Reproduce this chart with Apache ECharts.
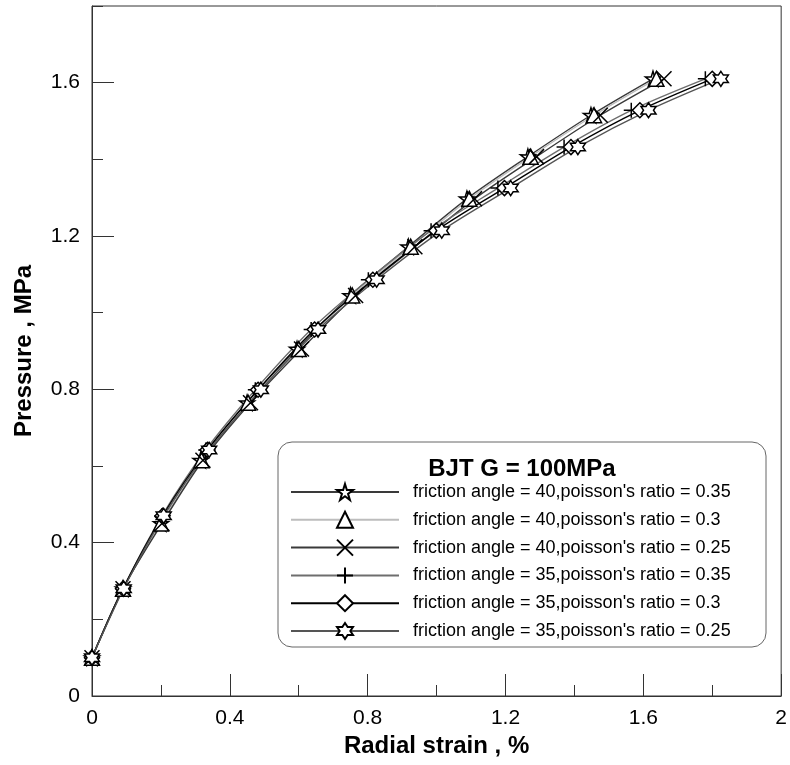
<!DOCTYPE html>
<html>
<head>
<meta charset="utf-8">
<script src="https://cdn.jsdelivr.net/npm/echarts@6/dist/echarts.min.js"></script>
<style>html,body{margin:0;padding:0;background:#fff}#c{width:790px;height:765px}</style>
</head>
<body>
<div id="c"></div>
<script>
// ---- data ----
const seriesNames = [
  "friction angle = 40,poisson's ratio = 0.35",
  "friction angle = 40,poisson's ratio = 0.3",
  "friction angle = 40,poisson's ratio = 0.25",
  "friction angle = 35,poisson's ratio = 0.35",
  "friction angle = 35,poisson's ratio = 0.3",
  "friction angle = 35,poisson's ratio = 0.25"
];
const pressure40 = [0.1, 0.28, 0.45, 0.615, 0.765, 0.905, 1.045, 1.172, 1.297, 1.407, 1.515, 1.61];
const pressure35 = [0.1, 0.28, 0.47, 0.642, 0.799, 0.956, 1.086, 1.214, 1.325, 1.432, 1.528, 1.61];
const strain40_035 = [0, 0.09, 0.2, 0.315, 0.45, 0.595, 0.75, 0.918, 1.088, 1.265, 1.448, 1.628];
const strain40_030 = [0, 0.09, 0.2, 0.318, 0.453, 0.6, 0.755, 0.925, 1.095, 1.273, 1.457, 1.638];
const strain40_025 = [0, 0.09, 0.203, 0.322, 0.46, 0.608, 0.765, 0.937, 1.11, 1.29, 1.475, 1.66];
const strain35_035 = [0, 0.09, 0.203, 0.33, 0.474, 0.636, 0.802, 0.984, 1.178, 1.37, 1.565, 1.78];
const strain35_030 = [0, 0.09, 0.205, 0.335, 0.482, 0.646, 0.815, 0.999, 1.197, 1.39, 1.59, 1.80];
const strain35_025 = [0, 0.092, 0.208, 0.34, 0.49, 0.656, 0.826, 1.015, 1.215, 1.41, 1.615, 1.825];
const xMajorTicks = [0, 0.4, 0.8, 1.2, 1.6, 2];
const xMinorTicks = [0.2, 0.6, 1.0, 1.4, 1.8];
const yMajorTicks = [0, 0.4, 0.8, 1.2, 1.6];
const yMinorTicks = [0.2, 0.6, 1.0, 1.4, 1.8];
const legendTitle = 'BJT G = 100MPa';
const xName = 'Radial strain , %';
const yName = 'Pressure , MPa';

// ---- styles ----
const STAR5 = 'path://M50 0 L61.2 34.6 L97.6 34.5 L68.1 55.9 L79.4 90.5 L50 69 L20.6 90.5 L31.9 55.9 L2.4 34.5 L38.8 34.6 Z';
const TRI = 'path://M50 0 L100 87 L0 87 Z';
const XMARK = 'path://M0 0 L100 100 M100 0 L0 100';
const PLUS = 'path://M50 0 L50 100 M0 50 L100 50';
const DIAM = 'path://M50 0 L100 50 L50 100 L0 50 Z';
const HEX = 'path://M50 0 L64.4 25 L93.3 25 L78.9 50 L93.3 75 L64.4 75 L50 100 L35.6 75 L6.7 75 L21.1 50 L6.7 25 L35.6 25 Z';

const strains = [strain40_035, strain40_030, strain40_025, strain35_035, strain35_030, strain35_025];
const pressures = [pressure40, pressure40, pressure40, pressure35, pressure35, pressure35];
const symbols = [STAR5, TRI, XMARK, PLUS, DIAM, HEX];
const lineColors = ['#3a3a3a', '#bdbdbd', '#3a3a3a', '#6e6e6e', '#000000', '#555555'];
const FONT = '"Liberation Sans", Arial, sans-serif';

const series = seriesNames.map((n, i) => ({
  name: n,
  type: 'line',
  xAxisIndex: 0,
  yAxisIndex: 0,
  data: strains[i].map((x, k) => [x, pressures[i][k]]),
  smooth: 0.3,
  symbol: symbols[i],
  symbolSize: 15,
  showAllSymbol: true,
  lineStyle: { color: lineColors[i], width: 1.4 },
  itemStyle: { color: '#ffffff', borderColor: '#000000', borderWidth: 1.5 },
  emphasis: { disabled: true }
}));

const chart = echarts.init(document.getElementById('c'), null, { renderer: 'canvas' });
chart.setOption({
  animation: false,
  backgroundColor: '#ffffff',
  grid: { left: 92, right: 8, top: 6, bottom: 69, show: true, borderColor: '#333', borderWidth: 1, backgroundColor: 'transparent' },
  xAxis: [
    {
      type: 'value', min: 0, max: 2, interval: 0.4,
      name: xName, nameLocation: 'middle', nameGap: 33,
      nameTextStyle: { fontFamily: FONT, fontSize: 24, fontWeight: 'bold', color: '#000' },
      axisLine: { show: true, onZero: false, lineStyle: { color: '#333', width: 1 } },
      axisTick: { show: true, inside: true, length: 22, customValues: xMajorTicks, lineStyle: { color: '#333' } },
      axisLabel: { customValues: xMajorTicks, margin: 12, fontFamily: FONT, fontSize: 21, color: '#000' },
      splitLine: { show: false }
    },
    {
      type: 'value', min: 0, max: 2, position: 'bottom',
      axisLine: { show: false },
      axisTick: { show: true, inside: true, length: 11, customValues: xMinorTicks, lineStyle: { color: '#333' } },
      axisLabel: { show: false },
      splitLine: { show: false }
    }
  ],
  yAxis: [
    {
      type: 'value', min: 0, max: 1.8, interval: 0.2,
      name: yName, nameLocation: 'middle', nameGap: 56, nameRotate: 90,
      nameTextStyle: { fontFamily: FONT, fontSize: 24, fontWeight: 'bold', color: '#000' },
      axisLine: { show: true, onZero: false, lineStyle: { color: '#333', width: 1 } },
      axisTick: { show: true, inside: true, length: 22, customValues: yMajorTicks, lineStyle: { color: '#333' } },
      axisLabel: { customValues: yMajorTicks, margin: 12, fontFamily: FONT, fontSize: 21, color: '#000' },
      splitLine: { show: false }
    },
    {
      type: 'value', min: 0, max: 1.8, position: 'left',
      axisLine: { show: false },
      axisTick: { show: true, inside: true, length: 11, customValues: yMinorTicks, lineStyle: { color: '#333' } },
      axisLabel: { show: false },
      splitLine: { show: false }
    }
  ],
  legend: {
    orient: 'vertical',
    left: 290, top: 482,
    padding: 0,
    itemWidth: 108, itemHeight: 20, itemGap: 7.8,
    textStyle: { fontFamily: FONT, fontSize: 18, color: '#000', padding: [0, 0, 0, 9], lineHeight: 20 },
    data: seriesNames,
    selectedMode: false
  },
  graphic: [
    { type: 'rect', z: 100, shape: { x: 278, y: 442, width: 488, height: 205, r: 14 }, style: { fill: 'none', stroke: '#666', lineWidth: 1 } },
    { type: 'text', z: 100, x: 522, y: 469, style: { text: legendTitle, font: 'bold 24px "Liberation Sans", Arial, sans-serif', fill: '#000', textAlign: 'center', textVerticalAlign: 'middle' } }
  ],
  series: series
});
</script>
</body>
</html>
